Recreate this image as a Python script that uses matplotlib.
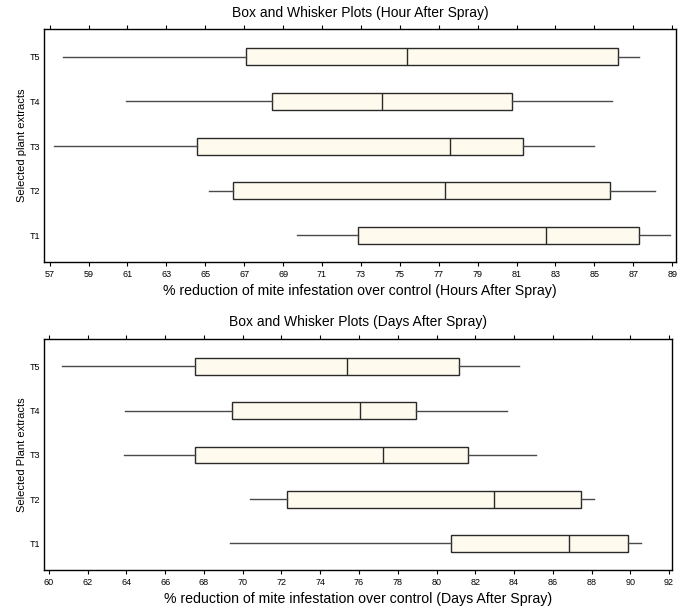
import matplotlib
matplotlib.use("Agg")
import matplotlib.pyplot as plt

plt.rcParams['font.family'] = ['Liberation Sans', 'DejaVu Sans']

labels = ["T1", "T2", "T3", "T4", "T5"]

# hours after spray: low whisker, Q1, median, Q3, high whisker (T1..T5)
hour_low = [69.7, 65.2, 57.2, 60.9, 57.7]
hour_q1 = [72.85, 66.45, 64.6, 68.45, 67.1]
hour_med = [82.5, 77.3, 77.6, 74.1, 75.35]
hour_q3 = [87.3, 85.8, 81.35, 80.75, 86.2]
hour_high = [88.9, 88.1, 85.0, 85.9, 87.3]

# days after spray
day_low = [69.35, 70.4, 63.9, 63.95, 60.7]
day_q1 = [80.75, 72.3, 67.55, 69.45, 67.55]
day_med = [86.85, 82.95, 77.25, 76.05, 75.4]
day_q3 = [89.9, 87.45, 81.65, 78.95, 81.15]
day_high = [90.55, 88.1, 85.15, 83.65, 84.25]

hour_ticks = list(range(57, 90, 2))
day_ticks = list(range(60, 93, 2))


def make_stats(low, q1, med, q3, high):
    stats = []
    for i in range(len(labels)):
        stats.append(dict(label=labels[i], whislo=low[i], q1=q1[i], med=med[i],
                          q3=q3[i], whishi=high[i], fliers=[]))
    return stats


def draw(ax, stats, ticks, xlim, title, xlabel, ylabel):
    ax.bxp(stats, orientation='horizontal', widths=0.38, showcaps=False,
           showfliers=False, patch_artist=True,
           boxprops=dict(facecolor='#fffaee', edgecolor='#2a2a2a', linewidth=1.0),
           whiskerprops=dict(color='#4a4a4a', linewidth=1.0),
           medianprops=dict(color='#2a2a2a', linewidth=1.0))
    ax.set_xlim(*xlim)
    ax.set_ylim(0.4, 5.62)
    ax.set_xticks(ticks)
    ax.set_xticklabels([str(t) for t in ticks], fontsize=6.5)
    ax.tick_params(axis='x', top=True, direction='out', length=3, width=0.8, pad=3)
    ax.tick_params(axis='y', length=0, labelsize=6.5, pad=2.5)
    ax.set_title(title, fontsize=10, pad=9)
    ax.set_xlabel(xlabel, fontsize=10.2, labelpad=3)
    ax.set_ylabel(ylabel, fontsize=8, labelpad=2)
    for s in ax.spines.values():
        s.set_linewidth(1.0)


fig = plt.figure(figsize=(6.8, 6.08), dpi=100)
ax1 = fig.add_axes([0.0647, 0.569, 0.929, 0.383])
ax2 = fig.add_axes([0.0647, 0.0625, 0.923, 0.380])

draw(ax1, make_stats(hour_low, hour_q1, hour_med, hour_q3, hour_high), hour_ticks,
     (56.71, 89.18), "Box and Whisker Plots (Hour After Spray)",
     "% reduction of mite infestation over control (Hours After Spray)",
     "Selected plant extracts")
draw(ax2, make_stats(day_low, day_q1, day_med, day_q3, day_high), day_ticks,
     (59.75, 92.13), "Box and Whisker Plots (Days After Spray)",
     "% reduction of mite infestation over control (Days After Spray)",
     "Selected Plant extracts")

fig.savefig("out.png", dpi=100)
